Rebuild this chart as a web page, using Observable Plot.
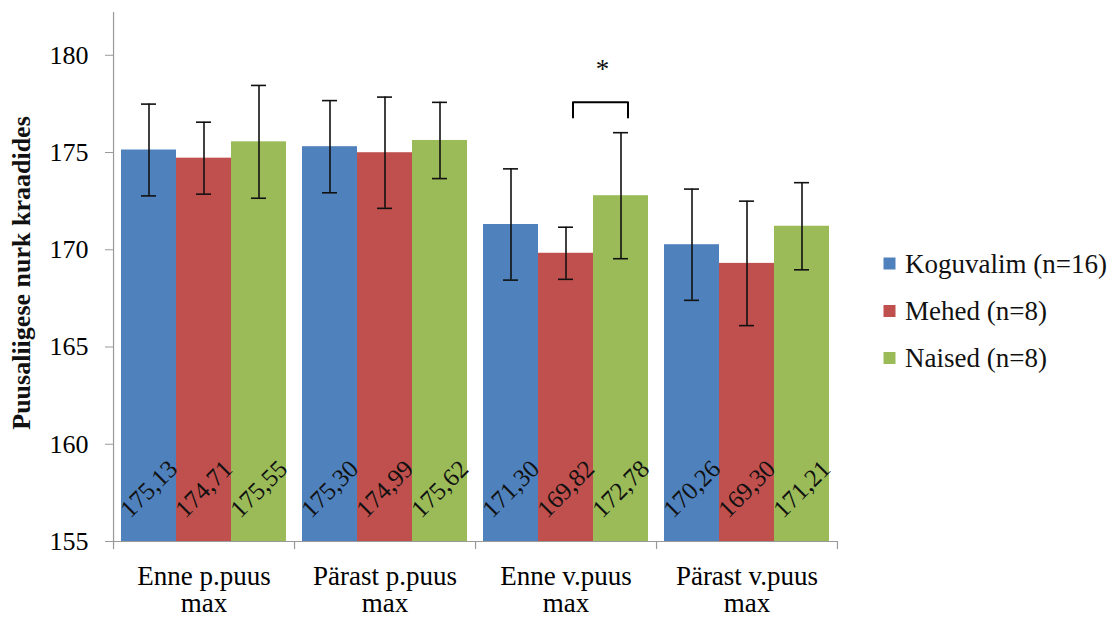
<!DOCTYPE html>
<html>
<head>
<meta charset="utf-8">
<script src="https://cdn.jsdelivr.net/npm/d3@7"></script>
<script src="https://cdn.jsdelivr.net/npm/@observablehq/plot@0.6"></script>
<style>
  html, body { margin: 0; padding: 0; background: #fff; }
  #chart { position: relative; width: 1114px; height: 617px; }
  #chart svg, #chart svg text { font-family: "Liberation Serif", "Times New Roman", serif !important; }
</style>
</head>
<body>
<div id="chart"></div>
<script>
// ---- data ----
const categories = ["Enne p.puus\nmax", "Pärast p.puus\nmax", "Enne v.puus\nmax", "Pärast v.puus\nmax"];
const series = ["Koguvalim (n=16)", "Mehed (n=8)", "Naised (n=8)"];
const koguvalim = [175.13, 175.30, 171.30, 170.26];
const mehed = [174.71, 174.99, 169.82, 169.30];
const naised = [175.55, 175.62, 172.78, 171.21];
const koguvalimErr = [2.36, 2.37, 2.86, 2.86];
const mehedErr = [1.85, 2.86, 1.34, 3.20];
const naisedErr = [2.90, 1.96, 3.24, 2.24];
const yTicks = [155, 160, 165, 170, 175, 180];
const colors = ["#4F81BD", "#C0504D", "#9BBB59"];
const yLabel = "Puusaliigese nurk kraadides";
// significance marker: between Mehed and Naised in "Enne v.puus max"
const sigCategory = categories[2];
const sigPair = [series[1], series[2]];

// ---- build table ----
const values = [koguvalim, mehed, naised];
const errs = [koguvalimErr, mehedErr, naisedErr];
const rows = [];
categories.forEach((c, i) => {
  series.forEach((s, j) => {
    rows.push({cat: c, series: s, value: values[j][i], err: errs[j][i]});
  });
});

// ---- layout ----
const W = 1114, H = 617;
const mL = 111, mR = 276, mT = 12, mB = 76;
const yMin = 155, yMax = 182.2;
const pxPerUnit = (H - mT - mB) / (yMax - yMin);
const facetW = (W - mL - mR) / categories.length;
const padOuter = 0.14;
const step = facetW / (series.length + 2 * padOuter);
const edgeOffset = step / 2 + padOuter * step;
const tickLen = 8 / pxPerUnit;
const fmt = v => v.toFixed(2).replace(".", ",");

const bracketY = 177.58, bracketLeg = 176.8;
const bracket = [
  {x: sigPair[0], y: bracketLeg},
  {x: sigPair[0], y: bracketY},
  {x: sigPair[1], y: bracketY},
  {x: sigPair[1], y: bracketLeg}
];

const plot = Plot.plot({
  width: W,
  height: H,
  marginLeft: mL,
  marginRight: mR,
  marginTop: mT,
  marginBottom: mB,
  style: {fontFamily: "'Liberation Serif', 'Times New Roman', serif", fontSize: "25px", background: "#fff", overflow: "visible"},
  fx: {domain: categories, paddingInner: 0, paddingOuter: 0, label: null},
  x: {domain: series, paddingInner: 0, paddingOuter: padOuter, axis: null},
  y: {domain: [yMin, yMax], label: null},
  color: {domain: series, range: colors},
  marks: [
    Plot.barY(rows, {fx: "cat", x: "series", y1: yMin, y2: "value", fill: "series"}),
    // axis lines
    Plot.ruleY([yMin], {stroke: "#999", strokeWidth: 1.2}),
    Plot.ruleX([categories[0]], {fx: d => d, x: () => series[0], dx: -edgeOffset, y1: yMin, y2: yMax, stroke: "#999", strokeWidth: 1.2}),
    Plot.ruleX(categories, {fx: d => d, x: () => series[0], dx: -edgeOffset, y1: yMin, y2: yMin - tickLen, stroke: "#999", strokeWidth: 1.2}),
    Plot.ruleX([categories[categories.length - 1]], {fx: d => d, x: () => series[series.length - 1], dx: edgeOffset, y1: yMin, y2: yMin - tickLen, stroke: "#999", strokeWidth: 1.2}),
    // error bars
    Plot.ruleX(rows, {fx: "cat", x: "series", y1: d => d.value - d.err, y2: d => d.value + d.err, stroke: "#111", strokeWidth: 1.6}),
    Plot.tickY(rows, {fx: "cat", x: "series", y: d => d.value - d.err, stroke: "#111", strokeWidth: 1.6, inset: 20}),
    Plot.tickY(rows, {fx: "cat", x: "series", y: d => d.value + d.err, stroke: "#111", strokeWidth: 1.6, inset: 20}),
    // value labels
    Plot.text(rows, {fx: "cat", x: "series", y: () => 157.7, text: d => fmt(d.value), rotate: -45, fontSize: 25, fill: "#111"}),
    // significance bracket and star
    Plot.line(bracket, {fx: () => sigCategory, x: "x", y: "y", dx: 7, stroke: "#000", strokeWidth: 2}),
    Plot.text(["*"], {fx: () => sigCategory, x: () => sigPair[1], y: () => 179.3, dx: -18.5, text: d => d, fontSize: 27, fill: "#111"}),
    // axes
    Plot.axisY({ticks: yTicks, tickSize: 8, tickPadding: 17, fontSize: 26, stroke: "#999", label: null}),
    Plot.axisFx({anchor: "bottom", tickSize: 0, tickPadding: 24, fontSize: 27, lineHeight: 1.0, label: null})
  ]
});

document.getElementById("chart").appendChild(plot);

// y axis title and legend
const svg = d3.select(plot);
svg.append("text")
  .attr("transform", "translate(21,273) rotate(-90)")
  .attr("text-anchor", "middle")
  .attr("dy", "0.35em")
  .style("font-weight", "bold")
  .style("font-size", "26px")
  .attr("fill", "#111")
  .text(yLabel);

const legendY = [263.5, 311, 358];
const lg = svg.append("g").attr("text-anchor", "start");
series.forEach((s, i) => {
  lg.append("rect").attr("x", 883.5).attr("y", legendY[i] - 6).attr("width", 12).attr("height", 12).attr("fill", colors[i]);
  lg.append("text").attr("x", 905).attr("y", legendY[i]).attr("dy", "0.35em").attr("text-anchor", "start").style("font-size", "27px").attr("fill", "#111").text(s);
});
</script>
</body>
</html>
